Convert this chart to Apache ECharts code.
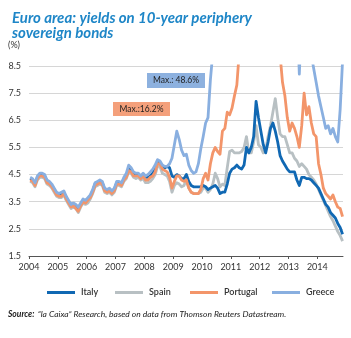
<!DOCTYPE html>
<html>
<head>
<meta charset="utf-8">
<script src="https://cdn.jsdelivr.net/npm/echarts@6/dist/echarts.min.js"></script>
<style>
  html, body { margin: 0; padding: 0; background: #ffffff; }
  #chart { width: 351px; height: 338px; }
</style>
</head>
<body>
<div id="chart"></div>
<script>
// 10-year government bond yields (%), monthly, January 2004 to November 2014
const firstYear = 2004;
const yearTicks = [2004, 2005, 2006, 2007, 2008, 2009, 2010, 2011, 2012, 2013, 2014];
const yieldTicks = [1.5, 2.5, 3.5, 4.5, 5.5, 6.5, 7.5, 8.5];
const seriesNames = ['Italy', 'Spain', 'Portugal', 'Greece'];

const italy = [
  4.35, 4.30, 4.15, 4.40, 4.50, 4.50, 4.45, 4.25, 4.20, 4.10, 3.95, 3.80,
  3.75, 3.75, 3.85, 3.65, 3.50, 3.35, 3.40, 3.35, 3.25, 3.40, 3.55, 3.50,
  3.60, 3.70, 3.90, 4.15, 4.20, 4.25, 4.20, 3.95, 3.90, 3.95, 3.85, 3.95,
  4.20, 4.20, 4.15, 4.35, 4.45, 4.70, 4.65, 4.50, 4.50, 4.50, 4.40, 4.50,
  4.40, 4.40, 4.45, 4.55, 4.70, 4.95, 4.95, 4.80, 4.75, 4.80, 4.75, 4.45,
  4.40, 4.50, 4.45, 4.35, 4.35, 4.50, 4.25, 4.10, 4.05, 4.05, 4.05, 4.05,
  4.10, 4.05, 3.95, 4.00, 4.05, 4.10, 4.00, 3.80, 3.85, 3.85, 4.15, 4.55,
  4.70, 4.75, 4.85, 4.75, 4.70, 4.85, 5.50, 5.30, 5.50, 5.90, 7.20, 6.60,
  6.10, 5.60, 5.30, 5.70, 6.20, 6.40, 6.10, 5.70, 5.20, 5.00, 4.85, 4.70,
  4.60, 4.60, 4.60, 4.30, 4.10, 4.40, 4.40, 4.35, 4.35, 4.30, 4.20, 4.10,
  4.00, 3.80, 3.60, 3.40, 3.30, 3.10, 3.00, 2.90, 2.70, 2.55, 2.30
];

const spain = [
  4.25, 4.20, 4.05, 4.30, 4.40, 4.40, 4.35, 4.15, 4.10, 4.00, 3.85, 3.70,
  3.65, 3.65, 3.75, 3.55, 3.40, 3.25, 3.30, 3.25, 3.10, 3.30, 3.45, 3.40,
  3.45, 3.60, 3.80, 4.05, 4.10, 4.15, 4.10, 3.85, 3.80, 3.85, 3.75, 3.85,
  4.10, 4.10, 4.05, 4.25, 4.35, 4.60, 4.55, 4.40, 4.35, 4.40, 4.30, 4.35,
  4.20, 4.20, 4.25, 4.35, 4.50, 4.80, 4.80, 4.55, 4.50, 4.45, 4.25, 3.85,
  4.10, 4.20, 4.15, 4.05, 4.10, 4.30, 4.00, 3.85, 3.80, 3.80, 3.80, 3.85,
  4.00, 4.00, 3.85, 3.95, 4.15, 4.55, 4.35, 4.05, 4.15, 4.10, 4.75, 5.35,
  5.40, 5.30, 5.30, 5.30, 5.35, 5.50, 5.90, 5.30, 5.30, 5.70, 6.30, 5.60,
  5.50, 5.30, 5.40, 5.90, 6.30, 6.80, 7.30, 6.60, 6.00, 5.90, 5.90, 5.60,
  5.30, 5.30, 5.10, 5.00, 4.80, 4.90, 4.80, 4.70, 4.50, 4.40, 4.30, 4.15,
  3.95, 3.75, 3.55, 3.35, 3.15, 2.95, 2.80, 2.60, 2.40, 2.25, 2.05
];

const portugal = [
  4.30, 4.25, 4.10, 4.35, 4.45, 4.45, 4.40, 4.20, 4.15, 4.05, 3.90, 3.75,
  3.70, 3.70, 3.80, 3.60, 3.45, 3.30, 3.35, 3.25, 3.15, 3.35, 3.50, 3.45,
  3.55, 3.65, 3.85, 4.10, 4.15, 4.20, 4.15, 3.90, 3.85, 3.90, 3.80, 3.90,
  4.15, 4.15, 4.10, 4.30, 4.40, 4.65, 4.60, 4.45, 4.45, 4.45, 4.35, 4.45,
  4.30, 4.30, 4.40, 4.45, 4.60, 4.90, 4.90, 4.70, 4.65, 4.60, 4.40, 4.00,
  4.25, 4.45, 4.45, 4.30, 4.25, 4.30, 4.00, 3.85, 3.80, 3.80, 3.80, 3.95,
  4.35, 4.55, 4.30, 4.90, 5.30, 5.50, 5.35, 5.25, 6.10, 6.20, 6.80, 6.70,
  6.95, 7.40, 7.80, 9.00, 9.50, 10.90, 12.00, 10.50, 11.30, 11.80, 12.60, 13.20,
  16.20, 14.00, 12.80, 11.80, 11.50, 10.50, 10.40, 9.60, 8.90, 7.90, 7.40, 6.60,
  6.10, 6.40, 6.20, 5.90, 5.50, 6.30, 7.50, 6.70, 7.00, 6.40, 6.00, 5.90,
  4.90, 4.50, 4.00, 3.80, 3.70, 3.60, 3.75, 3.50, 3.30, 3.25, 2.95
];

const greece = [
  4.40, 4.35, 4.20, 4.45, 4.55, 4.55, 4.50, 4.30, 4.25, 4.15, 4.00, 3.85,
  3.80, 3.85, 3.90, 3.70, 3.55, 3.40, 3.45, 3.40, 3.30, 3.45, 3.60, 3.55,
  3.65, 3.75, 3.95, 4.20, 4.25, 4.30, 4.25, 4.00, 3.95, 4.00, 3.90, 4.00,
  4.25, 4.25, 4.20, 4.40, 4.55, 4.85, 4.75, 4.60, 4.55, 4.55, 4.45, 4.55,
  4.45, 4.50, 4.60, 4.70, 4.85, 5.05, 5.00, 4.85, 4.80, 4.80, 4.90, 5.10,
  5.60, 6.10, 5.80, 5.40, 5.20, 5.25, 4.85, 4.65, 4.55, 4.60, 4.90, 5.45,
  5.90, 6.40, 6.60, 8.00, 9.00, 9.80, 10.30, 10.80, 11.30, 9.60, 11.40, 12.00,
  11.60, 11.40, 12.30, 13.80, 15.60, 16.80, 15.90, 15.70, 19.50, 23.50, 26.00, 33.00,
  33.50, 36.00, 48.60, 21.00, 26.00, 27.00, 25.80, 24.00, 20.00, 17.50, 17.00, 12.50,
  10.80, 10.90, 11.60, 10.80, 8.20, 10.30, 10.50, 10.10, 9.90, 8.90, 8.40, 7.90,
  7.40, 7.00, 6.60, 6.20, 6.30, 6.00, 6.20, 5.90, 5.70, 6.90, 8.70
];

const colors = {
  Italy: '#1068b3',
  Spain: '#b8c0c3',
  Portugal: '#f3956a',
  Greece: '#89afe0'
};

// pair each monthly value with its mid-month position in decimal years
function toPoints(values) {
  return values.map((v, i) => [firstYear + (i + 0.5) / 12, v]);
}

const font = 'Lato, "Open Sans", sans-serif';
const narrowFont = '"Liberation Sans Narrow", ' + font;
const chart = echarts.init(document.getElementById('chart'), null, { renderer: 'canvas' });

const layers = { Spain: 2, Italy: 3, Portugal: 4, Greece: 5 };
const valuesByName = { Italy: italy, Spain: spain, Portugal: portugal, Greece: greece };

const legendLeft = { Italy: 42, Spain: 110, Portugal: 185, Greece: 267 };

const maxLabel = (prefix, values) => prefix + Math.max(...values).toFixed(1) + '%';

chart.setOption({
  animation: false,
  backgroundColor: '#ffffff',
  title: {
    text: 'Euro area: yields on 10-year periphery\nsovereign bonds',
    left: 7,
    top: 6,
    textStyle: {
      fontFamily: font,
      fontSize: 15,
      fontWeight: 'bold',
      fontStyle: 'italic',
      color: '#1e86c7',
      lineHeight: 14.5
    }
  },
  grid: { left: 29, right: 8, top: 66, bottom: 82, containLabel: false },
  xAxis: {
    type: 'value',
    min: 2004,
    max: 2014.89,
    interval: 1,
    axisLine: { show: true, lineStyle: { color: '#555555', width: 1 } },
    axisTick: { show: true, customValues: yearTicks, length: 3, lineStyle: { color: '#555555' } },
    axisLabel: {
      customValues: yearTicks,
      formatter: v => String(Math.round(v)),
      fontFamily: font,
      fontSize: 9,
      color: '#333333',
      margin: 7
    },
    splitLine: { show: false }
  },
  yAxis: {
    type: 'value',
    min: 1.5,
    max: 8.5,
    interval: 1,
    axisLine: { show: false },
    axisTick: { show: false },
    axisLabel: {
      customValues: yieldTicks,
      formatter: v => v.toFixed(1),
      fontFamily: font,
      fontSize: 9,
      color: '#333333',
      margin: 8
    },
    splitLine: { show: true, lineStyle: { color: '#d6d6d6', width: 1 } }
  },
  legend: seriesNames.map(name => ({
    data: [name],
    left: legendLeft[name],
    top: 283,
    icon: 'rect',
    itemWidth: 28,
    itemHeight: 3,
    itemGap: 0,
    selectedMode: false,
    textStyle: { fontFamily: font, fontSize: 9, fontWeight: 600, color: '#333333', padding: [0, 0, 0, 1] }
  })),
  series: seriesNames.map(name => ({
    name: name,
    type: 'line',
    data: toPoints(valuesByName[name]),
    showSymbol: false,
    symbol: 'none',
    clip: true,
    z: layers[name],
    color: colors[name],
    lineStyle: { width: 2.8, color: colors[name], join: 'round' }
  })),
  graphic: [
    {
      type: 'text',
      left: 8,
      top: 41,
      style: { text: '(%)', fontFamily: font, fontSize: 9, fill: '#333333' }
    },
    {
      type: 'group',
      left: 147,
      top: 73,
      children: [
        { type: 'rect', shape: { x: 0, y: 0, width: 58, height: 15 }, style: { fill: '#8db1df' } },
        {
          type: 'text', x: 29, y: 7.5,
          style: { text: maxLabel('Max.: ', greece), fontFamily: font, fontSize: 8.5, fill: '#222222', align: 'center', verticalAlign: 'middle' }
        }
      ]
    },
    {
      type: 'group',
      left: 113,
      top: 102,
      children: [
        { type: 'rect', shape: { x: 0, y: 0, width: 57, height: 14 }, style: { fill: '#f4a07b' } },
        {
          type: 'text', x: 28.5, y: 7,
          style: { text: maxLabel('Max.:', portugal), fontFamily: font, fontSize: 8.5, fill: '#222222', align: 'center', verticalAlign: 'middle' }
        }
      ]
    },
    {
      type: 'text',
      left: 8,
      top: 308,
      style: {
        text: '{b|Source:} {n|\u201cla Caixa\u201d Research, based on data from Thomson Reuters Datastream.}',
        rich: {
          b: { fontFamily: narrowFont, fontSize: 8.5, fontWeight: 'bold', fontStyle: 'italic', fill: '#222222' },
          n: { fontFamily: narrowFont, fontSize: 8.5, fontStyle: 'italic', fill: '#222222' }
        }
      }
    }
  ]
});
</script>
</body>
</html>
